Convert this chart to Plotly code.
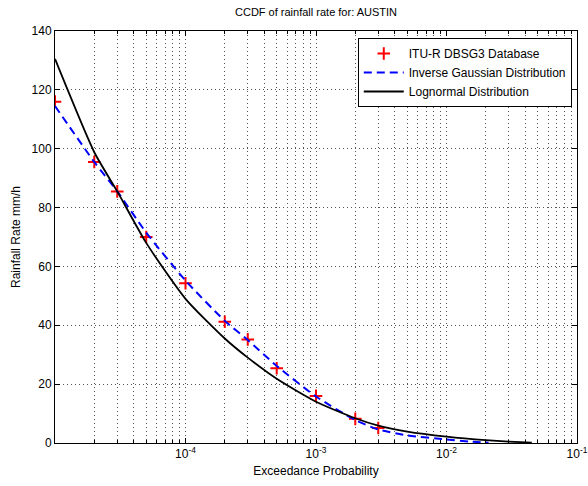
import plotly.graph_objects as go
import numpy as np

# ITU-R DBSG3 database points
itu_p = [1e-5, 2e-5, 3e-5, 5e-5, 1e-4, 2e-4, 3e-4, 5e-4, 1e-3, 2e-3, 3e-3]
itu_r = [116, 95.5, 85.5, 70, 54.3, 41.2, 35.2, 25.4, 16.0, 8.2, 5.1]

# Inverse Gaussian distribution
ig_p = [1e-5, 2e-5, 3e-5, 5e-5, 1e-4, 2e-4, 3e-4, 5e-4, 1e-3, 2e-3, 3e-3, 5e-3, 1e-2, 1.5e-2, 2.1e-2]
ig_r = [114.5, 95.5, 85.5, 71.5, 55.2, 41.5, 35.0, 26.2, 15.8, 7.8, 4.6, 2.6, 1.2, 0.5, 0.1]

# Lognormal distribution
ln_p = [1e-5, 2e-5, 3e-5, 5e-5, 1e-4, 2e-4, 3e-4, 5e-4, 1e-3, 2e-3, 3e-3, 5e-3, 1e-2, 2e-2, 3e-2, 4.5e-2]
ln_r = [130.5, 98.8, 85.5, 68.0, 49.0, 35.5, 29.0, 21.8, 14.0, 8.4, 5.9, 3.9, 2.2, 1.0, 0.5, 0.1]

x_ticks = [1e-4, 1e-3, 1e-2, 1e-1]
x_ticktext = ["10<sup>-4</sup>", "10<sup>-3</sup>", "10<sup>-2</sup>", "10<sup>-1</sup>"]
y_ticks = [0, 20, 40, 60, 80, 100, 120, 140]

minor_vals = [m * 10.0 ** e for e in range(-5, -1) for m in range(2, 10)]

fig = go.Figure()
fig.add_trace(go.Scatter(
    x=itu_p, y=itu_r, mode="markers", name="ITU-R DBSG3 Database",
    marker=dict(symbol="cross-thin", size=9, color="red", line=dict(color="red", width=2)),
))
fig.add_trace(go.Scatter(
    x=ig_p, y=ig_r, mode="lines", name="Inverse Gaussian Distribution",
    line=dict(color="#0000ff", width=2, dash="8px,5px", shape="spline", smoothing=0.6),
))
fig.add_trace(go.Scatter(
    x=ln_p, y=ln_r, mode="lines", name="Lognormal Distribution",
    line=dict(color="black", width=1.8, shape="spline", smoothing=0.6),
))

axis_font = dict(family="Liberation Sans, Arial, sans-serif", size=12, color="black")
grid_col = "#555555"
grid_dash = "1px,3px"

fig.update_layout(
    width=588, height=486,
    margin=dict(l=55, r=11, t=31, b=43, autoexpand=False),
    paper_bgcolor="white", plot_bgcolor="white",
    font=axis_font,
    title=dict(text="CCDF of rainfall rate for: AUSTIN", x=0.5, xref="paper",
               y=1, yref="container", yanchor="top", pad=dict(t=8),
               font=dict(family="Liberation Sans, Arial, sans-serif", size=11, color="black")),
    showlegend=True,
    legend=dict(x=0.99, y=0.983, xanchor="right", yanchor="top",
                bgcolor="white", bordercolor="black", borderwidth=1,
                font=dict(family="Liberation Sans, Arial, sans-serif", size=12, color="black"),
                tracegroupgap=0, itemwidth=40),
)

fig.update_xaxes(
    type="log", range=[np.log10(1.0e-5), -1], automargin=False,
    tickvals=x_ticks, ticktext=x_ticktext, tickfont=axis_font,
    ticks="inside", ticklen=5, tickcolor="black",
    showline=True, linecolor="black", linewidth=1, mirror="ticks",
    showgrid=True, gridcolor=grid_col, gridwidth=1, griddash=grid_dash,
    zeroline=False,
    minor=dict(tickvals=minor_vals, ticks="inside", ticklen=3, tickcolor="black",
               showgrid=True, gridcolor=grid_col, gridwidth=1, griddash=grid_dash),
    title=dict(text="Exceedance Probability", standoff=6, font=axis_font),
)
fig.update_yaxes(
    range=[0, 140], tickvals=y_ticks, tickfont=axis_font, automargin=False,
    ticks="inside", ticklen=5, tickcolor="black",
    showline=True, linecolor="black", linewidth=1, mirror="ticks",
    showgrid=True, gridcolor=grid_col, gridwidth=1, griddash=grid_dash,
    zeroline=False,
    title=dict(text="Rainfall Rate mm/h", standoff=8, font=axis_font),
)

fig.write_html("out.html")
